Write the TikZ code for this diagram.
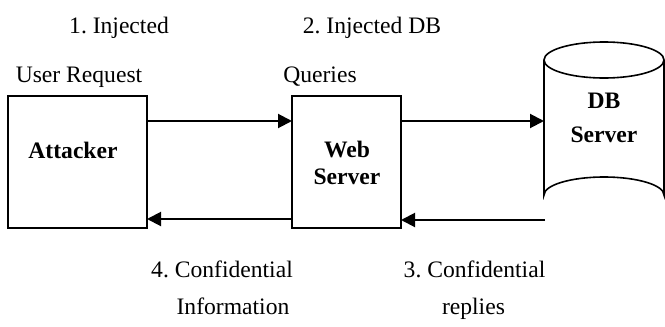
\documentclass[tikz,border=0pt]{standalone}
\usepackage{fontspec}
\setmainfont{Liberation Serif}
\usetikzlibrary{arrows.meta}
\begin{document}
\frenchspacing
\begin{tikzpicture}[x=1pt,y=-1pt,
  every node/.style={inner sep=0pt,outer sep=0pt},
  txt/.style={font=\fontsize{23.6}{26}\selectfont,anchor=base},
  btxt/.style={font=\fontsize{23.6}{26}\selectfont\bfseries,anchor=base},
  boxnode/.style={draw,line width=1.6pt,minimum width=#1},
  arr/.style={line width=2pt,-{Triangle[length=14pt,width=14pt]}}]
\useasboundingbox (0,0) rectangle (665,327);
% boxes
\node[boxnode=139pt,minimum height=132pt] (att) at (77.5,162) {};
\node[boxnode=109pt,minimum height=132pt] (web) at (346.5,162) {};
% cylinder
\node[minimum width=120pt,minimum height=171pt] (db) at (604,127.5) {};
\draw[line width=1.6pt] (544,60) -- (544,195) arc[start angle=180,end angle=360,x radius=60,y radius=18] -- (664,60);
\draw[line width=1.6pt] (604,60) ellipse[x radius=60,y radius=18];
\coordinate (dbout) at (545,220);
\coordinate (wtop) at ([yshift=41pt]web.east);
% labels in shapes
\node[btxt] (attl) at (73,158) {Attacker};
\node[btxt] (webl1) at (347,157) {Web};
\node[btxt] (webl2) at (347,184) {Server};
\node[btxt] (dbl1) at (604,108) {DB};
\node[btxt] (dbl2) at (604,142) {Server};
% arrows
\draw[arr] ([yshift=41pt]att.east) -- ([yshift=41pt]web.west);
\draw[arr] (wtop) -- (db.west |- wtop);
\draw[arr] (dbout) -- (web.east |- dbout);
\draw[arr] ([yshift=-57pt]web.west) -- ([yshift=-57pt]att.east);
% text labels
\node[txt] (l1a) at (119,33) {1. Injected};
\node[txt] (l1b) at (79,82) {User Request};
\node[txt] (l2a) at (372,33) {2. Injected DB};
\node[txt] (l2b) at (320,82) {Queries};
\node[txt] (l4a) at (222,277) {4. Confidential};
\node[txt] (l4b) at (233,314) {Information};
\node[txt] (l3a) at (474.5,277) {3. Confidential};
\node[txt] (l3b) at (473.5,314) {replies};
\end{tikzpicture}
\end{document}
